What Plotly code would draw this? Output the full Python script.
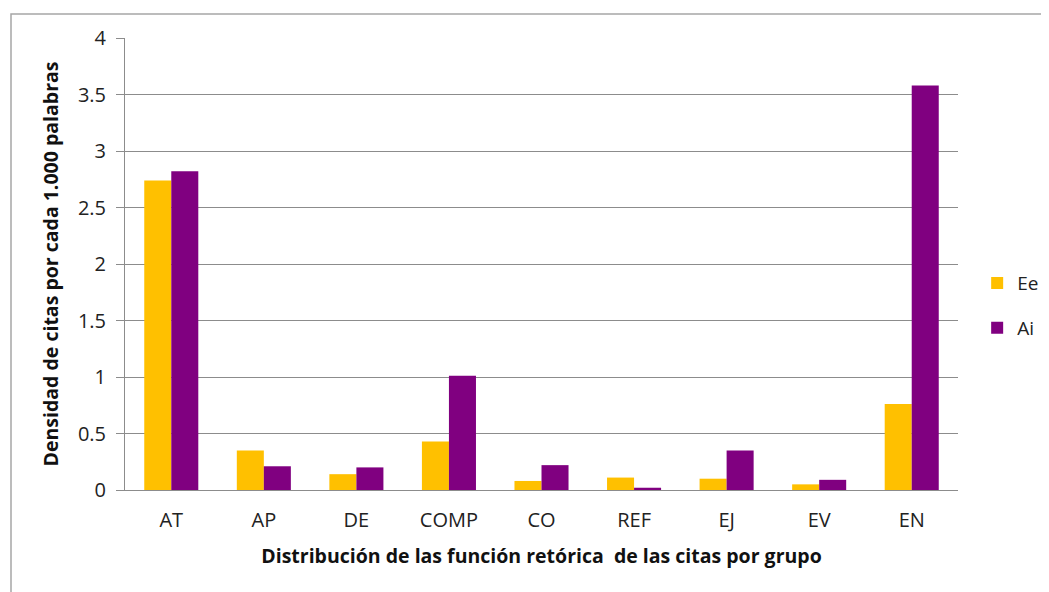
import plotly.graph_objects as go

categories = ["AT", "AP", "DE", "COMP", "CO", "REF", "EJ", "EV", "EN"]
ee_values = [2.74, 0.35, 0.14, 0.43, 0.08, 0.11, 0.10, 0.05, 0.76]
ai_values = [2.82, 0.21, 0.20, 1.01, 0.22, 0.02, 0.35, 0.09, 3.58]
y_ticks = [0, 0.5, 1, 1.5, 2, 2.5, 3, 3.5, 4]
y_tick_text = ["0", "0.5", "1", "1.5", "2", "2.5", "3", "3.5", "4"]

FONT = "'Open Sans', Lato, sans-serif"
GRID = "#8C8C8C"

fig = go.Figure()
fig.add_trace(go.Bar(name="Ee", x=categories, y=ee_values, marker_color="#FFC000",
                     marker_line_width=0, legendgroup="ee"))
fig.add_trace(go.Bar(name="Ai", x=categories, y=ai_values, marker_color="#800080",
                     marker_line_width=0, legendgroup="ai"))

# page body has an 8px default margin, so the figure is 8px smaller
fig.update_layout(
    width=1041, height=584,
    margin=dict(l=117, r=91, t=30, b=102, pad=0, autoexpand=False),
    paper_bgcolor="white", plot_bgcolor="white",
    font=dict(family=FONT, size=16, color="#222222"),
    barmode="group", bargap=0.416, bargroupgap=0,
    showlegend=True,
    legend=dict(x=1.023, xanchor="left", y=0.408, yanchor="middle", xref="paper",
                font=dict(size=19, color="#222222"), traceorder="grouped",
                tracegroupgap=17, itemwidth=30, bgcolor="rgba(0,0,0,0)"),
    xaxis=dict(
        showgrid=False, showline=True, linecolor=GRID, linewidth=1,
        ticks="", tickfont=dict(size=20, color="#222222"),
        ticklabelstandoff=12,
        title=dict(text="<b>Distribución de las función retórica &nbsp;de las citas por grupo</b>",
                   font=dict(size=19.5, color="#111111"), standoff=17),
    ),
    yaxis=dict(
        range=[0, 4], tickvals=y_ticks, ticktext=y_tick_text,
        showgrid=True, gridcolor=GRID, gridwidth=1,
        showline=True, linecolor=GRID, linewidth=1,
        ticks="outside", ticklen=8, tickcolor=GRID,
        tickfont=dict(size=20, color="#222222"),
        ticklabelstandoff=6,
        zeroline=False,
        title=dict(text="<b>Densidad de citas por cada 1.000 palabras</b>",
                   font=dict(size=19.5, color="#111111"), standoff=14),
    ),
    shapes=[dict(type="rect", xref="paper", yref="paper",
                 xsizemode="pixel", ysizemode="pixel", xanchor=0, yanchor=0,
                 x0=-114, x1=1000, y0=-120, y1=476,
                 line=dict(color="#A6A6A6", width=1.5), fillcolor="rgba(0,0,0,0)",
                 layer="below")],
)

fig.write_html("out.html")
